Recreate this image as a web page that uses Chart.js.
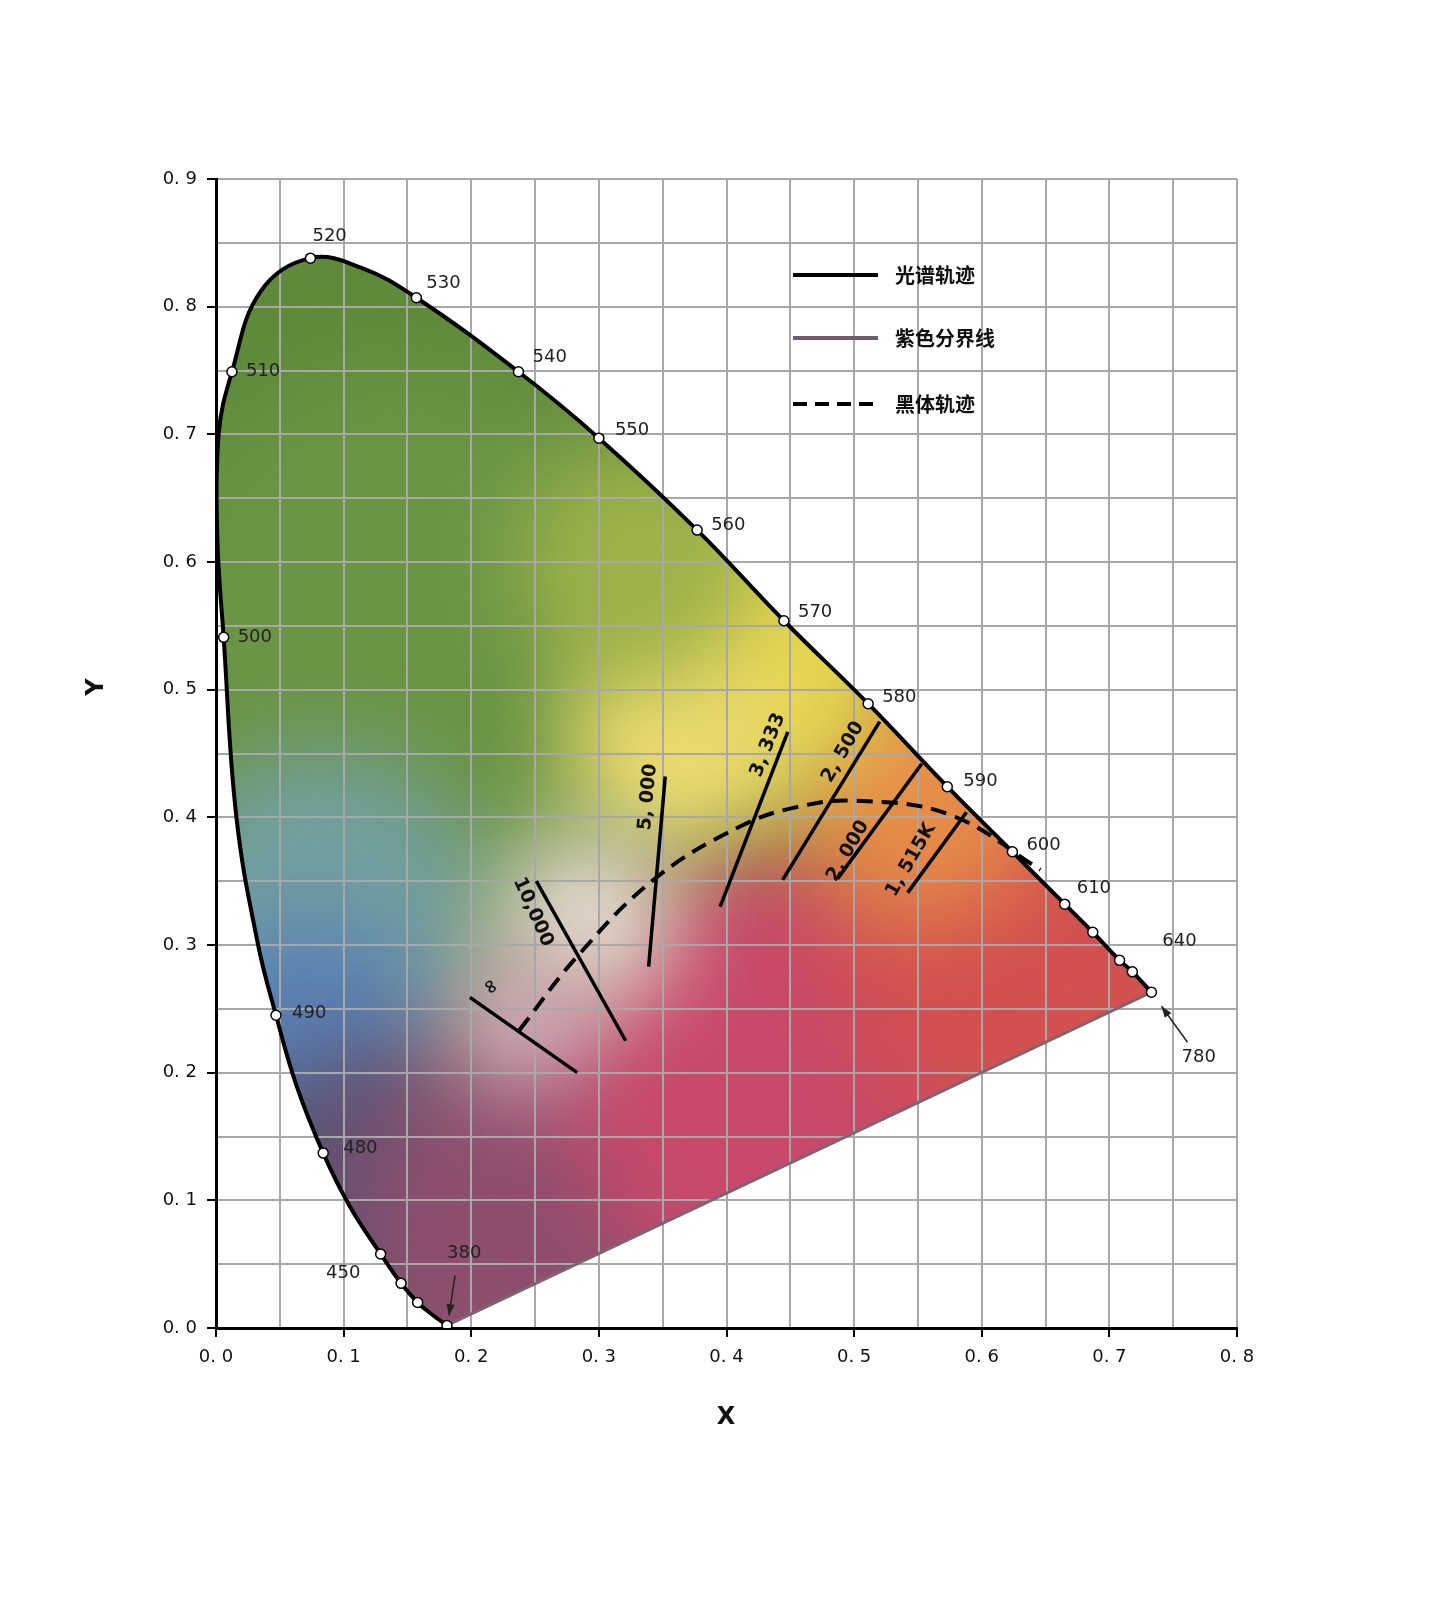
<!DOCTYPE html>
<html><head><meta charset="utf-8">
<script src="https://cdn.jsdelivr.net/npm/chart.js@4/dist/chart.umd.min.js"></script>
<style>html,body{margin:0;background:#fff}#w{width:1440px;height:1600px}</style>
</head><body><div id="w"><canvas id="c"></canvas></div>
<script>
// Spectral locus
const locusX=[0.181,0.170,0.158,0.145,0.129,0.105,0.084,0.063,0.047,0.033,0.016,0.006,0.001,0.002,0.0125,0.035,0.074,0.115,0.157,0.237,0.300,0.377,0.445,0.511,0.573,0.624,0.665,0.687,0.708,0.718,0.733];
const locusY=[0.002,0.010,0.020,0.035,0.058,0.095,0.137,0.190,0.245,0.300,0.400,0.541,0.620,0.700,0.749,0.812,0.838,0.830,0.807,0.749,0.697,0.625,0.554,0.489,0.424,0.373,0.332,0.310,0.288,0.279,0.263];
// Marked wavelengths
const markLabel=["380","","450","","480","490","500","510","520","530","540","550","560","570","580","590","600","610","","","640","780"];
const markX=[0.181,0.158,0.145,0.129,0.084,0.047,0.006,0.0125,0.074,0.157,0.237,0.300,0.377,0.445,0.511,0.573,0.624,0.665,0.687,0.708,0.718,0.733];
const markY=[0.002,0.020,0.035,0.058,0.137,0.245,0.541,0.749,0.838,0.807,0.749,0.697,0.625,0.554,0.489,0.424,0.373,0.332,0.310,0.288,0.279,0.263];
// Purple line
const purpleX=[0.181,0.733], purpleY=[0.002,0.263];
// Blackbody locus
const bbX=[0.2375,0.283,0.344,0.411,0.455,0.501,0.575,0.646];
const bbY=[0.233,0.291,0.352,0.393,0.408,0.413,0.402,0.359];
// Isotherms [x1,y1,x2,y2]
const isoNames=["∞","10,000","5, 000","3, 333","2, 500","2, 000","1, 515K"];
const isoX1=[0.199,0.251,0.352,0.448,0.520,0.553,0.588], isoY1=[0.259,0.350,0.432,0.467,0.475,0.442,0.404];
const isoX2=[0.283,0.321,0.339,0.395,0.444,0.487,0.542], isoY2=[0.200,0.225,0.283,0.330,0.351,0.352,0.341];
const xTicks=["0. 0","0. 1","0. 2","0. 3","0. 4","0. 5","0. 6","0. 7","0. 8"];
const yTicks=["0. 0","0. 1","0. 2","0. 3","0. 4","0. 5","0. 6","0. 7","0. 8","0. 9"];

const pts=(X,Y)=>X.map((x,i)=>({x,y:Y[i]}));
const iso=isoNames.map((n,i)=>({type:'scatter',label:n,data:[{x:isoX1[i],y:isoY1[i]},{x:isoX2[i],y:isoY2[i]}],showLine:true,borderColor:'#000',borderWidth:3.5,pointRadius:0}));

const blobs=[[0.05,0.75,'#5f8a3a',300],[0.15,0.55,'#6a9544',260],[0.08,0.32,'#72a0a0',170],[0.07,0.22,'#5a80b4',130],[0.12,0.10,'#5a5272',150],[0.28,0.08,'#8e4e6e',220],[0.45,0.20,'#c8496a',230],[0.64,0.30,'#d2504f',200],[0.55,0.42,'#e68c48',130],[0.43,0.53,'#e8d64e',140],[0.36,0.46,'#eedc70',110],[0.29,0.32,'#e6dcd2',90],[0.24,0.24,'#d8b0c0',70],[0.33,0.60,'#9cb24a',120]];

function locusPath(c,ctx,xs,ys){
  const meta=c.getDatasetMeta(0);ctx.beginPath();
  ctx.moveTo(xs.getPixelForValue(locusX[0]),ys.getPixelForValue(locusY[0]));
  meta.data.forEach((p,i)=>{if(i==0)return;const pr=meta.data[i-1];
    if(pr.cp2x===undefined||p.cp1x===undefined)ctx.lineTo(p.x,p.y);
    else ctx.bezierCurveTo(pr.cp2x,pr.cp2y,p.cp1x,p.cp1y,p.x,p.y);});
  ctx.closePath();
}
const bg={id:'bg',beforeDraw(c){
  const ctx=c.ctx,xs=c.scales.x,ys=c.scales.y;
  ctx.save();ctx.fillStyle='#fff';ctx.fillRect(0,0,c.width,c.height);
  const meta=c.getDatasetMeta(0);
  if(meta.data.length){
  locusPath(c,ctx,xs,ys);ctx.clip();
  ctx.fillStyle='#6a9040';ctx.fillRect(0,0,c.width,c.height);
  ctx.filter='blur(45px)';
  blobs.forEach(b=>{ctx.fillStyle=b[2];ctx.beginPath();ctx.arc(xs.getPixelForValue(b[0]),ys.getPixelForValue(b[1]),b[3],0,7);ctx.fill();});
  }
  ctx.restore();
},afterDraw(c){
  const ctx=c.ctx,xs=c.scales.x,ys=c.scales.y;ctx.save();
  ctx.font='18px "DejaVu Sans"';ctx.fillStyle='#222';ctx.textBaseline='middle';
  const off={"380":[0,-72],"450":[-75,-10],"480":[20,-5],"490":[16,-2],"500":[14,0],"510":[14,0],"520":[2,-22],"530":[10,-14],"540":[14,-14],"550":[16,-8],"560":[14,-5],"570":[14,-8],"580":[14,-6],"590":[16,-5],"600":[14,-6],"610":[12,-16],"640":[30,-30],"780":[30,65]};
  markLabel.forEach((l,i)=>{if(!l)return;const o=off[l];ctx.fillText(l,xs.getPixelForValue(markX[i])+o[0],ys.getPixelForValue(markY[i])+o[1]);});
  const arrow=(x1,y1,x2,y2)=>{ctx.strokeStyle='#222';ctx.fillStyle='#222';ctx.lineWidth=1.5;ctx.beginPath();ctx.moveTo(x1,y1);ctx.lineTo(x2,y2);ctx.stroke();
    const a=Math.atan2(y2-y1,x2-x1);ctx.beginPath();ctx.moveTo(x2,y2);ctx.lineTo(x2-12*Math.cos(a-0.35),y2-12*Math.sin(a-0.35));ctx.lineTo(x2-12*Math.cos(a+0.35),y2-12*Math.sin(a+0.35));ctx.fill();};
  const px=xs.getPixelForValue(0.181),py=ys.getPixelForValue(0.002);arrow(px+8,py-50,px+2,py-10);
  const qx=xs.getPixelForValue(0.733),qy=ys.getPixelForValue(0.263);arrow(qx+36,qy+50,qx+10,qy+14);
  ctx.font='bold 19px "DejaVu Sans"';ctx.fillStyle='#111';ctx.textAlign='center';
  const il=[[490,987,1.0],[533,912,1.15],[648,797,-1.48],[768,745,-1.2],[843,752,-1.05],[848,851,-1.05],[911,860,-1.05]];
  il.forEach((p,i)=>{ctx.save();ctx.translate(p[0],p[1]);ctx.rotate(p[2]);ctx.fillText(isoNames[i],0,0);ctx.restore();});
  const lg=[["光谱轨迹",'#000',[]],["紫色分界线",'#6f5b6d',[]],["黑体轨迹",'#000',[14,8]]];
  [275,338,404].forEach((y,i)=>{ctx.strokeStyle=lg[i][1];ctx.lineWidth=4;ctx.setLineDash(lg[i][2]);ctx.beginPath();ctx.moveTo(793,y);ctx.lineTo(878,y);ctx.stroke();ctx.setLineDash([]);
    ctx.fillStyle='#111';ctx.textAlign='left';ctx.font='bold 20px "Noto Sans CJK SC"';ctx.fillText(lg[i][0],895,y);});
  ctx.font='bold 24px "DejaVu Sans"';ctx.textAlign='center';ctx.fillText('X',726,1418);
  ctx.save();ctx.translate(97,687);ctx.rotate(-Math.PI/2);ctx.fillText('Y',0,0);ctx.restore();
  ctx.restore();
}};
const chart=new Chart(document.getElementById('c'),{type:'scatter',
 data:{datasets:[
  {label:'locus',data:pts(locusX,locusY),showLine:true,tension:0.4,borderColor:'#000',borderWidth:4,pointRadius:0,order:2},
  {label:'purple',data:pts(purpleX,purpleY),showLine:true,borderColor:'#7a6478',borderWidth:3,pointRadius:0,order:3},
  {label:'bb',data:pts(bbX,bbY),showLine:true,tension:0.4,borderColor:'#000',borderWidth:4,borderDash:[16,9],pointRadius:0,order:2},
  ...iso,
  {label:'marks',data:pts(markX,markY),pointRadius:5,pointBackgroundColor:'#fff',pointBorderColor:'#000',pointBorderWidth:1.5,order:0}
 ]},
 options:{responsive:true,maintainAspectRatio:false,animation:false,
  layout:{padding:{top:179,right:203,left:0,bottom:0}},
  plugins:{legend:{display:false},tooltip:{enabled:false}},
  scales:{
   x:{type:'linear',min:0,max:0.8,afterFit:s=>{s.height=272},
     ticks:{stepSize:0.05,autoSkip:false,maxRotation:0,padding:10,color:'#111',font:{size:18,family:'DejaVu Sans'},callback:(v,i)=>i%2?'':xTicks[i/2]},
     grid:{color:'#a8a8a8',lineWidth:2,tickLength:9,tickColor:c=>c.index%2?'rgba(0,0,0,0)':'#000'},
     border:{color:'#000',width:3}},
   y:{type:'linear',min:0,max:0.9,afterFit:s=>{s.width=216},
     ticks:{stepSize:0.05,autoSkip:false,padding:10,color:'#111',font:{size:18,family:'DejaVu Sans'},callback:(v,i)=>i%2?'':yTicks[i/2]},
     grid:{color:'#a8a8a8',lineWidth:2,tickLength:9,tickColor:c=>c.index%2?'rgba(0,0,0,0)':'#000'},
     border:{color:'#000',width:3}}
  }},
 plugins:[bg]});
</script></body></html>
